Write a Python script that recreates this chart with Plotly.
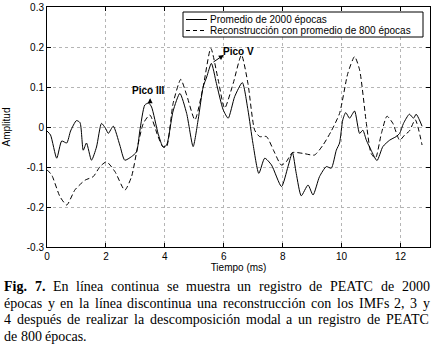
import plotly.graph_objects as go

# Data
solid_x = [0.0, 0.12, 0.33, 0.5, 0.67, 0.8, 1.0, 1.12, 1.23, 1.34, 1.51, 1.68, 1.85, 2.0, 2.08, 2.25,
           2.47, 2.64, 2.87, 3.04, 3.15, 3.32, 3.45, 3.55, 3.77, 3.94, 4.06, 4.28, 4.51, 4.74, 4.96,
           5.13, 5.3, 5.42, 5.58, 5.75, 5.98, 6.15, 6.37, 6.63, 6.82, 6.99, 7.19, 7.39, 7.62, 7.96,
           8.18, 8.33, 8.46, 8.63, 8.86, 9.03, 9.25, 9.48, 9.65, 9.82, 9.93, 10.04, 10.14, 10.27,
           10.44, 10.61, 10.72, 10.84, 11.0, 11.2, 11.4, 11.63, 11.85, 11.97, 12.1, 12.3, 12.44,
           12.53, 12.64, 12.73]
solid_y = [-0.01, -0.02, -0.078, -0.035, -0.04, -0.01, 0.016, 0.011, -0.058, -0.04, -0.083, -0.05,
           0.009, -0.005, -0.016, 0.002, -0.045, -0.083, -0.074, -0.062, -0.01, 0.055, 0.06, 0.05,
           -0.016, -0.05, -0.045, 0.04, 0.084, 0.034, -0.049, 0.018, 0.1, 0.125, 0.159, 0.109, 0.043,
           0.022, 0.076, 0.111, 0.043, -0.041, -0.116, -0.078, -0.095, -0.149, -0.099, -0.064, -0.116,
           -0.172, -0.145, -0.17, -0.124, -0.099, -0.103, -0.058, -0.04, 0.018, 0.036, 0.022, 0.04,
           -0.016, -0.008, -0.033, -0.058, -0.084, -0.049, -0.033, -0.024, -0.016, 0.009, 0.032,
           0.022, 0.032, 0.018, 0.002]

dash_x = [0.0, 0.16, 0.44, 0.67, 0.95, 1.29, 1.57, 1.8, 2.02, 2.31, 2.64, 2.87, 3.1, 3.27, 3.49,
          3.77, 3.94, 4.06, 4.28, 4.54, 4.74, 5.02, 5.3, 5.56, 5.81, 6.03, 6.32, 6.6, 6.82, 7.05,
          7.22, 7.45, 7.7, 7.95, 8.12, 8.33, 8.69, 9.08, 9.37, 9.65, 9.93, 10.21, 10.44, 10.61,
          10.84, 11.0, 11.15, 11.35, 11.54, 11.74, 11.97, 12.14, 12.3, 12.5, 12.73]
dash_y = [-0.107, -0.12, -0.174, -0.195, -0.157, -0.133, -0.124, -0.099, -0.087, -0.112, -0.158,
          -0.124, -0.04, 0.009, 0.03, -0.024, -0.05, -0.049, 0.059, 0.119, 0.08, 0.018, 0.1, 0.197,
          0.118, 0.047, 0.109, 0.18, 0.109, -0.008, -0.024, -0.024, -0.06, -0.095, -0.087, -0.064,
          -0.066, -0.07, -0.045, -0.01, 0.034, 0.134, 0.176, 0.143, 0.009, -0.066, -0.078, -0.016,
          0.027, 0.009, -0.033, -0.02, -0.01, 0.018, -0.045]

series_names = ["Promedio de 2000 épocas", "Reconstrucción con promedio de 800 épocas"]
x_ticks = [0, 2, 4, 6, 8, 10, 12]
y_ticks = [0.3, 0.2, 0.1, 0, -0.1, -0.2, -0.3]
y_tick_labels = ["0.3", "0.2", "0.1", "0", "-0.1", "-0.2", "-0.3"]

caption_lines = [
    "Fig. 7. En línea continua se muestra un registro de PEATC de 2000",
    "épocas y en la línea discontinua una reconstrucción con los IMFs 2, 3 y",
    "4 después de realizar la descomposición modal a un registro de PEATC",
    "de 800 épocas.",
]
caption_bold_words = 2  # "Fig." and "7." are bold

W, H = 436, 347
L, R, T, B = 47, 6, 7, 100
PW, PH = W - L - R, H - T - B

def px2paper_x(px):
    return (px - L) / PW

def py2paper_y(py):
    return (H - B - py) / PH

SANS = "Arial, Liberation Sans, sans-serif"
SERIF = "Times New Roman, Liberation Serif, serif"

# approximate Times advance widths (1/1000 em) for justification
TIMES_W = dict(a=444, b=500, c=444, d=500, e=444, f=333, g=500, h=500, i=278, j=278, k=500, l=278,
               m=778, n=500, o=500, p=500, q=500, r=333, s=389, t=278, u=500, v=500, w=722, x=500,
               y=500, z=444, A=722, C=667, E=611, F=556, I=333, M=889, P=556, S=556, T=611)
ACCENT = {"á": "a", "é": "e", "í": "i", "ó": "o", "ú": "u"}

def word_width(word, size, bold=False):
    total = 0
    for ch in word:
        ch = ACCENT.get(ch, ch)
        if ch.isdigit():
            w = 500
        elif ch in ".,":
            w = 250
        else:
            w = TIMES_W.get(ch, 500)
        if bold:
            w *= 1.06
        total += w
    return total * size / 1000.0

fig = go.Figure()
fig.add_trace(go.Scatter(x=solid_x, y=solid_y, mode="lines", name=series_names[0],
                         line=dict(color="black", width=1, shape="spline", smoothing=0.6),
                         showlegend=False))
fig.add_trace(go.Scatter(x=dash_x, y=dash_y, mode="lines", name=series_names[1],
                         line=dict(color="black", width=1, dash="5px,3px", shape="spline", smoothing=0.6),
                         showlegend=False))

axis_common = dict(showline=True, linecolor="black", linewidth=1, mirror="ticks",
                   ticks="inside", ticklen=4, tickcolor="black",
                   showgrid=True, gridcolor="#b5b5b5", griddash="dot", gridwidth=1,
                   zeroline=False, tickfont=dict(family=SANS, size=10, color="black"))

fig.update_xaxes(range=[0, 13], tickvals=x_ticks,
                 title=dict(text="Tiempo (ms)", font=dict(family=SANS, size=10, color="black"), standoff=2),
                 **axis_common)
fig.update_yaxes(range=[-0.3, 0.3], tickvals=y_ticks, ticktext=y_tick_labels,
                 title=dict(text="Amplitud", font=dict(family=SANS, size=10, color="black"), standoff=14),
                 **axis_common)

shapes = []
annotations = []

# Manual legend
lx0, lx1, ly0, ly1 = 183, 423, 12, 37
shapes.append(dict(type="rect", xref="paper", yref="paper",
                   x0=px2paper_x(lx0), x1=px2paper_x(lx1), y0=py2paper_y(ly1), y1=py2paper_y(ly0),
                   line=dict(color="black", width=1), fillcolor="white", layer="above"))
for i, (row_y, dash) in enumerate([(19.5, "solid"), (30.5, "4px,3px")]):
    shapes.append(dict(type="line", xref="paper", yref="paper",
                       x0=px2paper_x(186), x1=px2paper_x(207),
                       y0=py2paper_y(row_y), y1=py2paper_y(row_y),
                       line=dict(color="black", width=1, dash=dash), layer="above"))
    annotations.append(dict(xref="paper", yref="paper", x=px2paper_x(208), y=py2paper_y(row_y),
                            text=series_names[i], showarrow=False, xanchor="left", yanchor="middle",
                            font=dict(family=SANS, size=10, color="black")))

# Peak labels
annotations.append(dict(x=3.44, y=0.091, text="<b>Pico III</b>", showarrow=False,
                        font=dict(family=SANS, size=10, color="black")))
annotations.append(dict(x=3.5, y=0.072, ax=3.5, ay=0.058, axref="x", ayref="y",
                        text="", showarrow=True, arrowhead=2, arrowsize=1, arrowwidth=1, arrowcolor="black"))
annotations.append(dict(x=6.5, y=0.188, text="<b>Pico V</b>", showarrow=False,
                        font=dict(family=SANS, size=10, color="black")))
annotations.append(dict(x=6.0, y=0.18, ax=5.6, ay=0.16, axref="x", ayref="y",
                        text="", showarrow=True, arrowhead=2, arrowsize=1, arrowwidth=1, arrowcolor="black"))

# Caption (justified by placing each word)
CAP_SIZE = 14
CAP_LEFT, CAP_RIGHT = 3, 429
for li, line in enumerate(caption_lines):
    base = 292 + li * 16.5
    words = line.split(" ")
    bold_flags = [li == 0 and wi < caption_bold_words for wi in range(len(words))]
    widths = [word_width(w, CAP_SIZE, b) for w, b in zip(words, bold_flags)]
    last = li == len(caption_lines) - 1
    if last or len(words) < 2:
        gap = 0.25 * CAP_SIZE
    else:
        gap = (CAP_RIGHT - CAP_LEFT - sum(widths)) / (len(words) - 1)
    xpos = CAP_LEFT
    for w, b, ww in zip(words, bold_flags, widths):
        annotations.append(dict(xref="paper", yref="paper", x=px2paper_x(xpos),
                                y=py2paper_y(base + 3),
                                text=f"<b>{w}</b>" if b else w, showarrow=False,
                                xanchor="left", yanchor="bottom", borderpad=0,
                                font=dict(family=SERIF, size=CAP_SIZE, color="black")))
        xpos += ww + gap

fig.update_layout(width=W, height=H, margin=dict(l=L, r=R, t=T, b=B, autoexpand=False),
                  paper_bgcolor="white", plot_bgcolor="white",
                  shapes=shapes, annotations=annotations, showlegend=False)

fig.write_html("out.html", config={"displayModeBar": False},
               post_script="document.body.style.margin='0px';")
